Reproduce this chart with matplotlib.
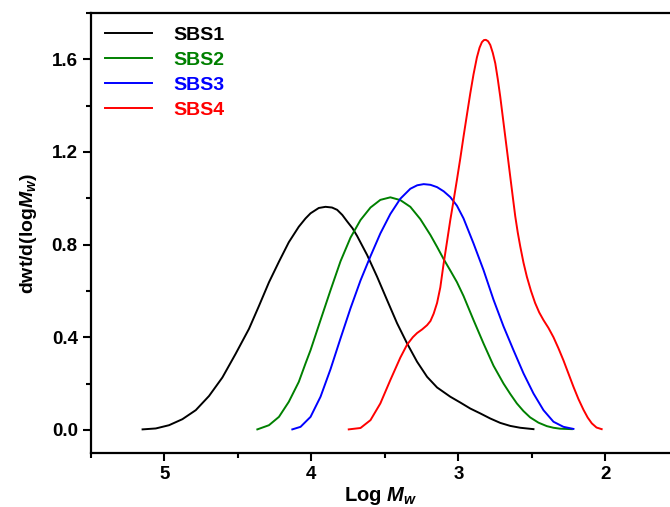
import matplotlib
matplotlib.use("Agg")
import matplotlib.pyplot as plt
from matplotlib.ticker import MultipleLocator

plt.rcParams['font.family'] = ['Liberation Sans', 'DejaVu Sans']
plt.rcParams['font.weight'] = 'bold'
plt.rcParams['mathtext.fontset'] = 'custom'
plt.rcParams['mathtext.rm'] = 'Liberation Sans:bold'
plt.rcParams['mathtext.it'] = 'Liberation Sans:italic:bold'
plt.rcParams['mathtext.bf'] = 'Liberation Sans:bold'

# Molecular weight distributions, Log Mw vs dwt/d(logMw)
sbs1_x = [5.149, 5.059, 4.969, 4.878, 4.787, 4.697, 4.606, 4.516, 4.425, 4.357, 4.289,
          4.221, 4.154, 4.086, 4.04, 4.006, 3.95, 3.904, 3.86, 3.825, 3.79, 3.757, 3.72,
          3.689, 3.621, 3.553, 3.485, 3.417, 3.349, 3.281, 3.213, 3.145, 3.055, 2.987,
          2.919, 2.851, 2.783, 2.715, 2.647, 2.579, 2.489]
sbs1_y = [0.002, 0.006, 0.020, 0.046, 0.085, 0.146, 0.226, 0.328, 0.436, 0.535, 0.637,
          0.726, 0.810, 0.877, 0.913, 0.935, 0.958, 0.963, 0.960, 0.950, 0.928, 0.900,
          0.870, 0.837, 0.755, 0.661, 0.560, 0.460, 0.373, 0.294, 0.229, 0.183, 0.143,
          0.118, 0.092, 0.071, 0.049, 0.030, 0.017, 0.009, 0.003]

sbs2_x = [4.368, 4.289, 4.221, 4.154, 4.086, 4.04, 4.006, 3.938, 3.87, 3.802, 3.734,
          3.666, 3.598, 3.531, 3.463, 3.395, 3.327, 3.259, 3.19, 3.145, 3.10, 3.055,
          3.01, 2.965, 2.897, 2.829, 2.761, 2.693, 2.647, 2.602, 2.557, 2.512, 2.455,
          2.398, 2.353, 2.308, 2.228]
sbs2_y = [0.002, 0.020, 0.056, 0.121, 0.207, 0.287, 0.344, 0.474, 0.603, 0.728, 0.830,
          0.906, 0.960, 0.993, 1.004, 0.992, 0.963, 0.910, 0.841, 0.790, 0.737, 0.688,
          0.638, 0.578, 0.474, 0.373, 0.277, 0.200, 0.155, 0.114, 0.081, 0.054, 0.031,
          0.016, 0.009, 0.005, 0.003]

sbs3_x = [4.13, 4.074, 4.006, 3.938, 3.87, 3.802, 3.734, 3.666, 3.598, 3.531, 3.463,
          3.395, 3.327, 3.28, 3.236, 3.19, 3.145, 3.10, 3.055, 3.01, 2.965, 2.897,
          2.829, 2.761, 2.693, 2.625, 2.557, 2.489, 2.421, 2.353, 2.285, 2.217]
sbs3_y = [0.002, 0.013, 0.056, 0.143, 0.262, 0.395, 0.525, 0.645, 0.750, 0.848, 0.932,
          0.998, 1.041, 1.056, 1.061, 1.058, 1.048, 1.030, 1.005, 0.968, 0.913, 0.805,
          0.690, 0.562, 0.447, 0.344, 0.244, 0.157, 0.085, 0.035, 0.013, 0.004]

sbs4_x = [3.746, 3.666, 3.598, 3.531, 3.463, 3.395, 3.349, 3.31, 3.281, 3.246, 3.213,
          3.19, 3.168, 3.145, 3.123, 3.101, 3.078, 3.055, 3.032, 3.01, 2.987, 2.965,
          2.942, 2.919, 2.897, 2.874, 2.856, 2.84, 2.826, 2.813, 2.798, 2.783, 2.766,
          2.749, 2.732, 2.715, 2.698, 2.681, 2.664, 2.647, 2.63, 2.613, 2.596, 2.579,
          2.557, 2.534, 2.506, 2.478, 2.45, 2.421, 2.387, 2.353, 2.319, 2.285, 2.251,
          2.217, 2.183, 2.149, 2.12, 2.092, 2.06, 2.025]
sbs4_y = [0.002, 0.008, 0.042, 0.114, 0.215, 0.312, 0.368, 0.400, 0.418, 0.434, 0.452,
          0.470, 0.502, 0.548, 0.615, 0.715, 0.810, 0.906, 0.993, 1.079, 1.172, 1.266,
          1.360, 1.453, 1.535, 1.608, 1.650, 1.674, 1.683, 1.684, 1.678, 1.662, 1.628,
          1.583, 1.515, 1.438, 1.352, 1.266, 1.180, 1.093, 1.007, 0.922, 0.852, 0.792,
          0.722, 0.661, 0.600, 0.548, 0.507, 0.474, 0.440, 0.400, 0.352, 0.300, 0.243,
          0.186, 0.133, 0.087, 0.053, 0.028, 0.010, 0.003]

series = [
    ("SBS1", sbs1_x, sbs1_y, "black"),
    ("SBS2", sbs2_x, sbs2_y, "#008000"),
    ("SBS3", sbs3_x, sbs3_y, "#0000ff"),
    ("SBS4", sbs4_x, sbs4_y, "#ff0000"),
]

fig = plt.figure(figsize=(6.70, 5.07), dpi=100)
ax = fig.add_axes([0.1358, 0.1065, 0.8642, 0.8679])

for name, xs, ys, c in series:
    ax.plot(xs, ys, color=c, lw=1.4, label=name, solid_joinstyle='round')

ax.set_xlim(5.5, 1.56)
ax.set_ylim(-0.1, 1.8)

ax.xaxis.set_major_locator(MultipleLocator(1))
ax.xaxis.set_minor_locator(MultipleLocator(0.5))
ax.yaxis.set_major_locator(MultipleLocator(0.4))
ax.yaxis.set_minor_locator(MultipleLocator(0.2))
ax.xaxis.set_major_formatter(plt.FuncFormatter(lambda v, p: f"{v:.0f}"))
ax.yaxis.set_major_formatter(plt.FuncFormatter(lambda v, p: f"{v:.1f}"))

ax.tick_params(which='both', direction='out', width=1.5, labelsize=13.5)
ax.tick_params(which='major', length=6)
ax.tick_params(which='minor', length=3.5)
ax.tick_params(axis='y', right=False)
ax.tick_params(axis='x', top=False)

for side in ('left', 'bottom', 'top'):
    ax.spines[side].set_linewidth(1.6)
ax.spines['right'].set_visible(False)

ax.set_xlabel(r"Log $M_w$", fontsize=14.5, fontweight='bold', labelpad=1)
ax.set_ylabel(r"dwt/d(log$M_w$)", fontsize=14, fontweight='bold', labelpad=9)

leg = ax.legend(loc='upper left', frameon=False, fontsize=14, handlelength=2.42,
                handletextpad=1.13, labelspacing=0.38, borderaxespad=0.3,
                bbox_to_anchor=(0.0, 1.0))
for txt, (_, _, _, c) in zip(leg.get_texts(), series):
    txt.set_color(c)
    txt.set_fontweight('bold')

fig.savefig("out.png", dpi=100)
